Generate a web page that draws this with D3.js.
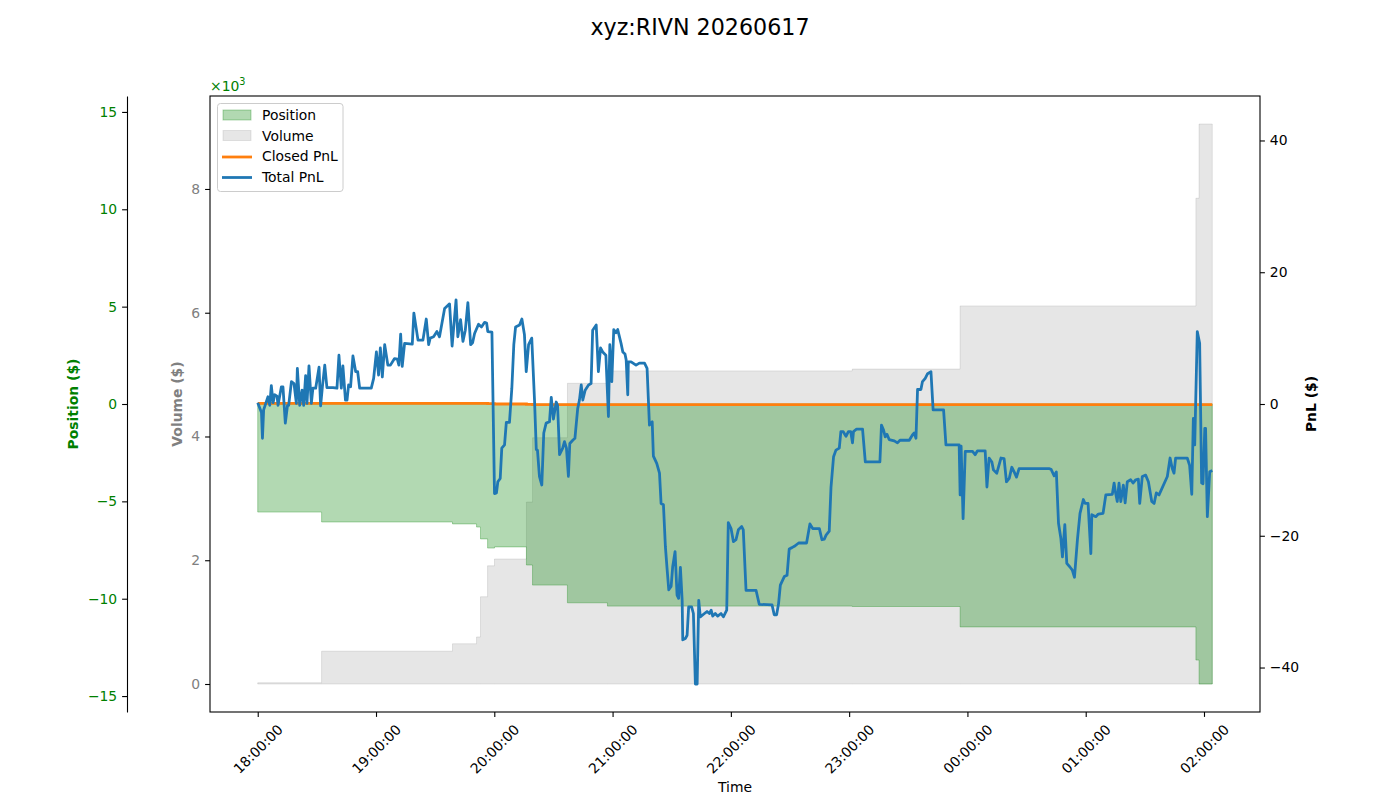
<!DOCTYPE html>
<html>
<head>
<meta charset="utf-8">
<script src="https://cdn.jsdelivr.net/npm/d3@7"></script>
<style>
  body { margin: 0; background: #fff; }
  svg { font-family: "DejaVu Sans", sans-serif; display: block; }
</style>
</head>
<body>
<svg id="chart" width="1400" height="800"></svg>
<script>
// ---------------- DATA ----------------
const chartTitle = "xyz:RIVN 20260617";
const sessionStart = "2026-06-17T18:00:00";

// trade steps (minutes after 18:00)
const tradeMinutes = [0, 32.4, 98.8, 111.0, 113.0, 116.6, 120.1, 136.3, 139.4, 157.1, 177.4, 301.6, 356.3, 475.9, 477.5, 484.2];
// position, in thousands of $
const positionK = [-5.55, -6.06, -6.16, -6.32, -6.93, -7.40, -7.34, -8.27, -9.30, -10.21, -10.38, -10.40, -11.45, -13.15, -14.38, -14.38];
// cumulative volume, in thousands of $
const volumeK = [0.02, 0.53, 0.65, 0.76, 1.41, 1.91, 2.02, 2.94, 3.98, 4.86, 5.06, 5.09, 6.11, 7.85, 9.05, 9.05];
// closed PnL ($)
const closedPnl = [0.1, 0.1, 0.1, 0.1, 0.1, 0.05, 0.0, -0.05, -0.1, -0.1, -0.1, -0.1, -0.1, -0.1, -0.1, -0.1];

// total PnL samples (minutes after 18:00, $)
const pnlMinutes = [0.0,1.9,2.4,3.0,5.2,6.1,6.9,7.8,8.6,9.8,10.3,12.0,12.8,14.0,15.1,15.7,17.1,18.4,19.6,20.1,21.3,22.5,23.3,24.3,25.0,26.0,27.2,28.0,29.4,31.1,31.9,32.8,34.0,35.1,38.2,40.2,41.2,42.4,43.2,44.5,45.3,46.1,47.1,48.3,49.7,50.7,51.7,57.6,58.8,60.2,61.3,62.2,63.2,64.4,66.0,67.3,69.4,70.8,71.6,72.5,73.3,74.5,78.4,79.2,81.3,83.8,85.5,86.7,87.5,89.2,90.9,92.2,94.8,97.3,98.6,100.6,101.5,102.9,104.1,105.3,106.6,108.0,109.0,110.0,112.0,113.5,115.1,116.1,116.7,118.8,120.1,121.1,121.8,123.0,123.8,125.2,126.1,127.7,128.9,129.9,130.8,132.8,134.0,135.3,136.2,137.4,139.0,140.4,141.3,141.9,142.9,144.1,145.1,146.3,148.0,148.9,150.0,151.4,152.1,153.1,154.7,155.6,156.6,157.6,158.3,159.8,160.9,162.3,163.2,164.1,164.9,166.1,167.8,169.1,169.9,171.7,172.8,173.9,175.0,176.6,177.9,178.6,179.6,180.6,181.7,182.6,184.3,185.2,186.3,186.9,187.7,188.0,189.4,191.9,193.6,195.3,196.2,197.5,198.7,200.1,200.7,202.4,203.8,204.6,205.8,206.8,207.7,208.5,209.7,210.5,211.7,212.7,213.5,214.4,215.3,215.6,216.9,217.8,218.6,220.1,221.0,222.0,222.9,223.7,224.5,226.6,227.9,229.1,230.0,230.8,232.1,233.3,235.0,236.2,237.9,238.7,240.1,241.3,242.6,243.8,245.5,246.3,247.7,252.8,254.4,260.9,262.0,263.2,264.2,265.1,267.1,268.5,269.6,271.0,272.2,274.4,278.4,280.1,281.5,284.9,286.2,287.4,288.3,289.9,290.8,292.1,293.3,295.0,295.8,297.0,298.4,299.6,300.8,301.7,302.2,303.8,306.8,308.2,315.6,316.4,317.4,318.3,319.2,320.3,322.9,324.5,325.8,330.5,332.1,333.0,333.9,334.7,336.4,337.2,338.6,339.8,341.5,342.6,347.9,349.1,355.8,356.3,356.8,357.8,358.9,362.6,363.9,365.1,369.0,369.9,371.0,372.4,373.2,374.9,377.0,378.6,379.8,381.2,382.5,383.7,384.9,386.2,401.4,402.4,404.0,405.1,406.2,407.4,408.2,409.4,410.4,411.9,413.2,414.3,415.8,417.1,418.8,419.7,421.2,422.6,423.1,425.1,426.4,428.8,430.2,433.5,434.4,435.1,436.0,436.9,437.8,439.1,440.0,441.1,442.8,444.0,445.4,446.7,447.4,448.7,450.4,451.8,453.5,454.7,455.8,457.2,461.4,462.8,463.9,464.8,465.6,471.5,472.7,473.8,474.6,475.3,476.6,477.8,478.8,479.5,480.4,480.8,481.7,482.9,484.2];
const pnlValues = [0.2,-1.3,-5.2,-0.9,1.1,-0.2,2.8,0.2,1.4,1.2,-0.2,2.6,2.6,-2.9,-0.2,-0.2,3.4,3.1,0.1,5.4,-0.2,2.1,-0.2,4.3,0.1,5.8,0.1,2.4,2.4,5.6,-0.3,2.6,5.9,2.5,2.5,2.4,7.4,2.4,5.8,0.6,0.6,2.9,2.6,7.3,4.9,4.9,2.4,2.4,3.9,7.9,4.4,8.5,4.1,9.0,5.9,5.9,6.9,6.8,5.9,10.6,5.7,9.2,9.1,13.8,9.7,9.7,12.9,9.0,10.0,10.2,11.0,10.2,14.5,15.2,8.8,15.8,10.2,12.8,9.5,11.2,15.4,9.0,9.3,10.7,12.1,11.7,12.4,12.3,11.0,10.9,-13.6,-13.5,-11.8,-11.3,-6.7,-6.2,-2.8,-2.8,2.4,9.0,11.7,12.0,12.9,10.5,4.9,9.0,10.0,0.6,-6.9,-7.0,-11.0,-12.3,-4.4,-2.9,-2.7,1.0,-2.3,0.3,-0.2,-7.7,-6.7,-5.7,-6.7,-11.0,-6.0,-5.5,-5.2,-0.7,0.6,2.9,0.6,2.1,2.9,3.1,11.2,12.0,4.9,8.5,7.9,7.4,-1.9,9.0,3.4,11.3,10.8,11.3,9.2,7.9,7.6,6.7,1.4,6.4,6.4,5.9,6.2,6.2,6.2,5.4,-3.2,-2.7,-7.9,-9.0,-10.5,-15.1,-15.3,-21.7,-25.2,-28.2,-27.7,-24.7,-22.4,-29.0,-29.5,-24.8,-29.8,-35.8,-35.6,-35.1,-30.8,-30.8,-31.8,-42.5,-42.5,-29.8,-32.3,-31.8,-31.5,-31.8,-31.3,-32.2,-31.8,-32.2,-31.8,-32.3,-31.3,-18.0,-18.9,-20.9,-20.6,-19.1,-18.6,-19.1,-28.3,-28.3,-30.4,-30.5,-32.0,-32.0,-30.3,-27.5,-26.2,-26.0,-22.0,-21.8,-21.6,-21.1,-21.1,-18.2,-18.9,-18.9,-20.6,-20.5,-19.9,-19.3,-12.6,-8.0,-7.0,-6.7,-4.2,-4.2,-4.9,-4.2,-4.2,-5.9,-4.2,-3.8,-3.8,-8.8,-8.8,-3.2,-3.9,-5.0,-4.6,-5.4,-5.6,-5.9,-5.5,-5.5,-4.7,-4.4,-5.2,2.2,2.2,3.4,3.9,4.6,4.9,-0.9,-0.9,-6.2,-6.2,-13.8,-6.4,-17.4,-7.2,-7.2,-7.7,-7.1,-7.1,-12.6,-8.2,-8.8,-10.0,-10.5,-8.2,-8.3,-11.8,-11.3,-9.6,-10.3,-11.1,-9.8,-9.8,-9.9,-10.9,-10.3,-18.1,-20.4,-23.2,-18.3,-24.2,-24.7,-25.2,-26.3,-20.6,-16.6,-14.5,-15.1,-15.1,-22.7,-16.8,-17.1,-16.7,-16.6,-13.8,-13.7,-12.0,-13.4,-14.8,-12.0,-14.8,-12.3,-15.0,-11.8,-11.5,-12.0,-11.5,-11.4,-15.1,-11.0,-10.8,-11.8,-14.8,-15.1,-13.5,-13.8,-11.0,-8.2,-9.8,-10.5,-8.2,-8.2,-9.3,-13.7,-2.2,-6.2,11.0,9.2,-12.0,-12.1,-3.7,-3.7,-17.1,-10.3,-10.1];

const positionTicks = [-15, -10, -5, 0, 5, 10, 15];
const volumeTicks = [0, 2, 4, 6, 8];
const pnlTicks = [-40, -20, 0, 20, 40];
const legendLabels = ["Position", "Volume", "Closed PnL", "Total PnL"];

// ---------------- CHART ----------------
const svg = d3.select("#chart");
const FS = 13.9;
const LW = 2.78;
const box = {left: 210, right: 1260, top: 96, bottom: 712};
const base = new Date(sessionStart);
const toDate = m => new Date(base.getTime() + m * 60000);

const allMin = tradeMinutes.concat(pnlMinutes);
const tMin = d3.min(allMin), tMax = d3.max(allMin);
const pad = (tMax - tMin) * 0.05;
const x = d3.scaleTime().domain([toDate(tMin - pad), toDate(tMax + pad)]).range([box.left, box.right]);

const posLim = d3.max(positionK, d => Math.abs(d)) * 1.1;
const yPos = d3.scaleLinear().domain([-posLim, posLim]).range([box.bottom, box.top]);
const pnlLim = d3.max(pnlValues.concat(closedPnl), d => Math.abs(d)) * 1.1;
const yPnl = d3.scaleLinear().domain([-pnlLim, pnlLim]).range([box.bottom, box.top]);
const vMax = d3.max(volumeK);
const yVol = d3.scaleLinear().domain([-0.05 * vMax, 1.05 * vMax]).range([box.bottom, box.top]);

const trades = tradeMinutes.map((m, i) => ({t: toDate(m), pos: positionK[i], vol: volumeK[i], closed: closedPnl[i]}));
const pnl = pnlMinutes.map((m, i) => ({t: toDate(m), v: pnlValues[i]}));

svg.append("defs").append("clipPath").attr("id", "clip")
  .append("rect").attr("x", box.left).attr("y", box.top)
  .attr("width", box.right - box.left).attr("height", box.bottom - box.top);

const plot = svg.append("g").attr("clip-path", "url(#clip)");

// volume (gray)
plot.append("path").datum(trades)
  .attr("d", d3.area().curve(d3.curveStepAfter).x(d => x(d.t)).y0(yVol(0)).y1(d => yVol(d.vol)))
  .attr("fill", "gray").attr("fill-opacity", 0.2)
  .attr("stroke", "gray").attr("stroke-opacity", 0.2).attr("stroke-width", 1);

// position (green)
plot.append("path").datum(trades)
  .attr("d", d3.area().curve(d3.curveStepAfter).x(d => x(d.t)).y0(yPos(0)).y1(d => yPos(d.pos)))
  .attr("fill", "green").attr("fill-opacity", 0.3)
  .attr("stroke", "green").attr("stroke-opacity", 0.3).attr("stroke-width", 1);

// closed pnl
plot.append("path").datum(trades)
  .attr("d", d3.line().curve(d3.curveStepAfter).x(d => x(d.t)).y(d => yPnl(d.closed)))
  .attr("fill", "none").attr("stroke", "#ff7f0e").attr("stroke-width", LW);

// total pnl
plot.append("path").datum(pnl)
  .attr("d", d3.line().x(d => x(d.t)).y(d => yPnl(d.v)))
  .attr("fill", "none").attr("stroke", "#1f77b4").attr("stroke-width", LW)
  .attr("stroke-linejoin", "round").attr("stroke-linecap", "butt");

// frame
svg.append("rect").attr("x", box.left).attr("y", box.top)
  .attr("width", box.right - box.left).attr("height", box.bottom - box.top)
  .attr("fill", "none").attr("stroke", "#000").attr("stroke-width", 1.1);

function styleAxis(g, color) {
  g.selectAll("text").attr("font-size", FS).attr("fill", color).attr("font-family", "DejaVu Sans");
  g.selectAll(".tick line").attr("stroke", "#000").attr("stroke-width", 1.1);
  g.select(".domain").attr("stroke", "#000").attr("stroke-width", 1.1);
}

// volume axis
const gVol = svg.append("g").attr("transform", `translate(${box.left},0)`)
  .call(d3.axisLeft(yVol).tickValues(volumeTicks).tickFormat(d3.format("d")).tickSize(4.9).tickPadding(4.9));
gVol.select(".domain").remove();
styleAxis(gVol, "gray");

// position axis (outer)
const gPos = svg.append("g").attr("transform", `translate(127,0)`)
  .call(d3.axisLeft(yPos).tickValues(positionTicks).tickFormat(d3.format("d")).tickSize(4.9).tickSizeOuter(0).tickPadding(4.9));
styleAxis(gPos, "green");

// pnl axis
const gPnl = svg.append("g").attr("transform", `translate(${box.right},0)`)
  .call(d3.axisRight(yPnl).tickValues(pnlTicks).tickFormat(d3.format("d")).tickSize(4.9).tickPadding(4.9));
gPnl.select(".domain").remove();
styleAxis(gPnl, "#000");

// x axis
const gX = svg.append("g").attr("transform", `translate(0,${box.bottom})`)
  .call(d3.axisBottom(x).ticks(d3.timeHour.every(1)).tickFormat(d3.timeFormat("%H:%M:%S")).tickSize(4.9));
gX.select(".domain").remove();
styleAxis(gX, "#000");
gX.selectAll(".tick text")
  .attr("y", 0).attr("dy", "0.35em").attr("text-anchor", "middle")
  .attr("transform", "translate(0,37) rotate(-45)");

// axis labels
svg.append("text").attr("transform", "translate(78,404) rotate(-90)")
  .attr("text-anchor", "middle").attr("font-size", FS).attr("font-weight", "bold").attr("fill", "green")
  .text("Position ($)");
svg.append("text").attr("transform", "translate(182,404) rotate(-90)")
  .attr("text-anchor", "middle").attr("font-size", FS).attr("font-weight", "bold").attr("fill", "gray")
  .text("Volume ($)");
svg.append("text").attr("transform", "translate(1316,404) rotate(-90)")
  .attr("text-anchor", "middle").attr("font-size", FS).attr("font-weight", "bold").attr("fill", "#000")
  .text("PnL ($)");
svg.append("text").attr("x", (box.left + box.right) / 2).attr("y", 792)
  .attr("text-anchor", "middle").attr("font-size", FS).attr("fill", "#000").text("Time");

// offset text
const off = svg.append("text").attr("x", 210).attr("y", 91).attr("font-size", FS).attr("fill", "green");
off.append("tspan").text("×10");
off.append("tspan").attr("font-size", 9.7).attr("dy", -6).text("3");

// title
svg.append("text").attr("x", 700).attr("y", 35).attr("text-anchor", "middle")
  .attr("font-size", 22.2).attr("fill", "#000").text(chartTitle);

// legend
const lg = svg.append("g");
lg.append("rect").attr("x", 217.5).attr("y", 103.5).attr("width", 125.5).attr("height", 88)
  .attr("rx", 3).attr("fill", "#fff").attr("fill-opacity", 0.8).attr("stroke", "#cccccc").attr("stroke-width", 1);
const rowY = [115, 135.5, 156, 176.5];
lg.append("rect").attr("x", 223).attr("y", rowY[0] - 5).attr("width", 28).attr("height", 10)
  .attr("fill", "green").attr("fill-opacity", 0.3).attr("stroke", "green").attr("stroke-opacity", 0.3);
lg.append("rect").attr("x", 223).attr("y", rowY[1] - 5).attr("width", 28).attr("height", 10)
  .attr("fill", "gray").attr("fill-opacity", 0.2).attr("stroke", "gray").attr("stroke-opacity", 0.2);
lg.append("line").attr("x1", 222).attr("x2", 252).attr("y1", rowY[2] + 1).attr("y2", rowY[2] + 1)
  .attr("stroke", "#ff7f0e").attr("stroke-width", LW);
lg.append("line").attr("x1", 222).attr("x2", 252).attr("y1", rowY[3] + 1).attr("y2", rowY[3] + 1)
  .attr("stroke", "#1f77b4").attr("stroke-width", LW);
legendLabels.forEach((t, i) => {
  lg.append("text").attr("x", 262).attr("y", rowY[i] + 5).attr("font-size", FS).attr("fill", "#000").text(t);
});
</script>
</body>
</html>
